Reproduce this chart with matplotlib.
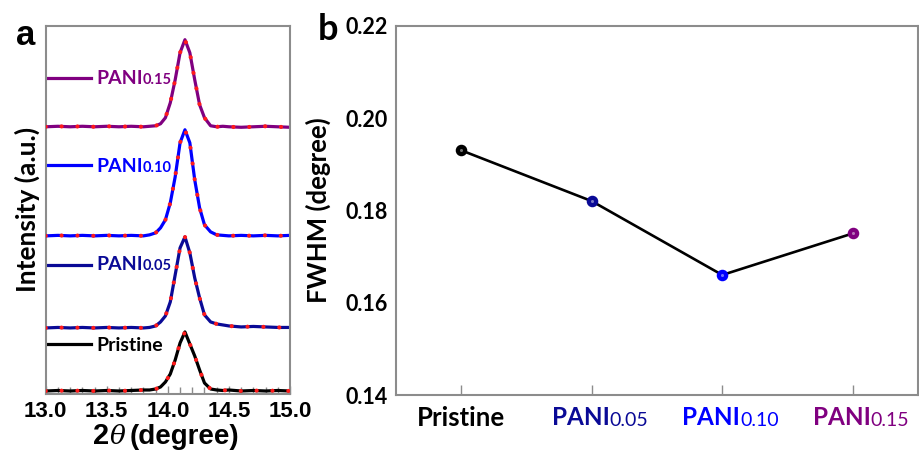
import matplotlib
matplotlib.use("Agg")
import matplotlib.pyplot as plt
from matplotlib import transforms
from matplotlib.lines import Line2D

# ---------------- data ----------------
two_theta = [13.0, 13.1, 13.2, 13.3, 13.4, 13.5, 13.6, 13.7, 13.8, 13.85, 13.9, 13.94,
             13.98, 14.02, 14.06, 14.10, 14.14, 14.18, 14.22, 14.26, 14.30, 14.35,
             14.40, 14.45, 14.5, 14.6, 14.7, 14.8, 14.9, 15.0]

int_pristine = [3, 3.5, 3, 3.5, 3, 3.5, 3, 3.5, 4, 4, 5, 7,
                12, 20, 34, 51, 62, 50, 38, 24, 11, 5,
                4, 3.5, 4, 3, 3.5, 3, 3.5, 3]
int_pani005 = [66, 66.5, 66, 66.5, 66, 66.5, 66, 66.5, 66, 66.5, 68, 72,
               78, 92, 119, 146, 157, 141, 116, 96, 79, 72,
               70, 69, 68, 67, 67.5, 67, 66.5, 66.5]
int_pani010 = [158, 158.5, 158, 158.5, 158, 158.5, 158, 158.5, 158, 159, 161, 166,
               174, 191, 217, 251, 264, 251, 214, 186, 169, 162,
               159, 158.5, 158, 158.5, 158, 158.5, 158, 158.5]
int_pani015 = [267, 267.5, 267, 267.5, 267, 267.5, 267, 267.5, 267, 267.5, 268, 270,
               276, 291, 314, 341, 354, 341, 314, 289, 276, 268,
               267, 267.5, 267, 266.5, 267, 267.5, 267, 266.5]

samples = ["Pristine", "PANI", "PANI", "PANI"]
sample_subs = ["", "0.05", "0.10", "0.15"]
fwhm = [0.193, 0.182, 0.166, 0.175]

xticks_a = [13.0, 13.5, 14.0, 14.5, 15.0]
yticks_b = [0.14, 0.16, 0.18, 0.20, 0.22]

colors = ["#000000", "#0a0a96", "#0000ff", "#800080"]
GRAY = "#8c8c8c"

# ---------------- figure ----------------
fig = plt.figure(figsize=(9.2, 4.53), dpi=100)
axa = fig.add_axes([45.7 / 920, (453 - 394) / 453, 244.3 / 920, 368.3 / 453])
axb = fig.add_axes([396 / 920, (453 - 395) / 453, 522 / 920, 369.3 / 453])

# ---------- panel a ----------
series = [int_pristine, int_pani005, int_pani010, int_pani015]
for vals, c in zip(series, colors):
    axa.plot(two_theta, vals, color=c, lw=2.3, solid_joinstyle="round", zorder=2)
    axa.plot(two_theta, vals, color="#ff1a1a", lw=3.0,
             linestyle=(0, (0.01, 3.8)), dash_capstyle="round", zorder=3)

axa.set_xlim(13.0, 15.0)
axa.set_ylim(0, 368)
axa.set_xticks(xticks_a)
axa.set_xticks([13.0 + 0.1 * i for i in range(21)], minor=True)
axa.set_xticklabels([f"{v:.1f}" for v in xticks_a], family="Liberation Sans",
                    fontweight="bold", fontsize=16)
axa.set_yticks([])
axa.tick_params(axis="x", which="both", direction="in", color=GRAY, pad=5)
axa.tick_params(axis="x", which="major", length=6, width=1)
axa.tick_params(axis="x", which="minor", length=5, width=1)
for s in axa.spines.values():
    s.set_color(GRAY)
    s.set_linewidth(1.5)

axa.set_ylabel("Intensity (a.u.)", family="Lato", fontweight="bold", fontsize=19,
               labelpad=4)

# custom x-label: 2θ (degree)
ybase = 1 - 444 / 453
fig.text(93 / 920, ybase, "2", family="Liberation Sans",
         fontweight="bold", fontsize=21, ha="left", va="baseline")
fig.text(110 / 920, ybase, "θ", family="DejaVu Serif",
         style="italic", fontsize=19, ha="left", va="baseline")
fig.text(130 / 920, ybase, "(degree)", family="Liberation Sans",
         fontweight="bold", fontsize=20, ha="left", va="baseline")

# legend-like labels next to each curve
leg_items = [("PANI", "0.15", colors[3], 78, 83.5),
             ("PANI", "0.10", colors[2], 165, 172),
             ("PANI", "0.05", colors[1], 265, 270),
             ("Pristine", "", colors[0], 344, 351)]
for main, sub, c, ly, by in leg_items:
    yl = (394 - ly) / 368.3
    yb = (394 - by) / 368.3
    axa.add_line(Line2D([(48 - 45.7) / 244.3, (91 - 45.7) / 244.3], [yl, yl],
                        transform=axa.transAxes, color=c, lw=2.3))
    tm = axa.text((96 - 45.7) / 244.3, yb, main, transform=axa.transAxes,
                  family="Lato", fontweight="bold", fontsize=14, color=c,
                  ha="left", va="baseline")
    if sub:
        axa.annotate(sub, xy=(1, 0), xycoords=tm, family="Lato",
                     fontweight="bold", fontsize=10.5, color=c,
                     ha="left", va="bottom")

fig.text(16 / 920, 1 - 45 / 453, "a", family="Liberation Sans",
         fontweight="bold", fontsize=25, ha="left", va="baseline")

# ---------- panel b ----------
xpos = list(range(len(fwhm)))
axb.plot(xpos, fwhm, color="black", lw=1.9, zorder=2)
for x, y, c in zip(xpos, fwhm, colors):
    axb.plot([x], [y], marker="o", ms=7.3, color=c, mec=c, zorder=3)
    axb.plot([x], [y], marker="o", ms=2.2, color="white", alpha=0.45, mec="none",
             zorder=4)

axb.set_xlim(-0.5, 3.5)
axb.set_ylim(0.14, 0.22)
axb.set_yticks(yticks_b)
axb.set_yticklabels([f"{v:.2f}" for v in yticks_b], family="Lato",
                    fontweight="bold", fontsize=15.5)
axb.tick_params(axis="y", length=0, pad=6)
axb.set_xticks(xpos)
axb.set_xticklabels([])
axb.tick_params(axis="x", direction="in", length=7, width=1, color=GRAY)
for s in axb.spines.values():
    s.set_color(GRAY)
    s.set_linewidth(1.5)

axb.set_ylabel("FWHM (degree)", family="Lato", fontweight="bold", fontsize=18.5,
               labelpad=10)

blend = transforms.blended_transform_factory(axb.transData, axb.transAxes)
for x, main, sub, c in zip(xpos, samples, sample_subs, colors):
    if sub:
        tr = transforms.offset_copy(blend, fig=fig, x=18, y=-11, units="dots")
        tm = axb.text(x, 0, main, transform=tr, family="Lato", fontweight="bold",
                      fontsize=17.5, color=c, ha="right", va="top")
        axb.annotate(sub, xy=(1, 0), xycoords=tm, family="Lato",
                     fontsize=14, color=c, ha="left", va="bottom")
    else:
        tr = transforms.offset_copy(blend, fig=fig, x=0, y=-11, units="dots")
        axb.text(x, 0, main, transform=tr, family="Lato", fontweight="bold",
                 fontsize=18.5, color=c, ha="center", va="top")

fig.text(318 / 920, 1 - 40 / 453, "b", family="Lato", fontweight="bold",
         fontsize=26, ha="left", va="baseline")

fig.savefig("out.png", dpi=100)
